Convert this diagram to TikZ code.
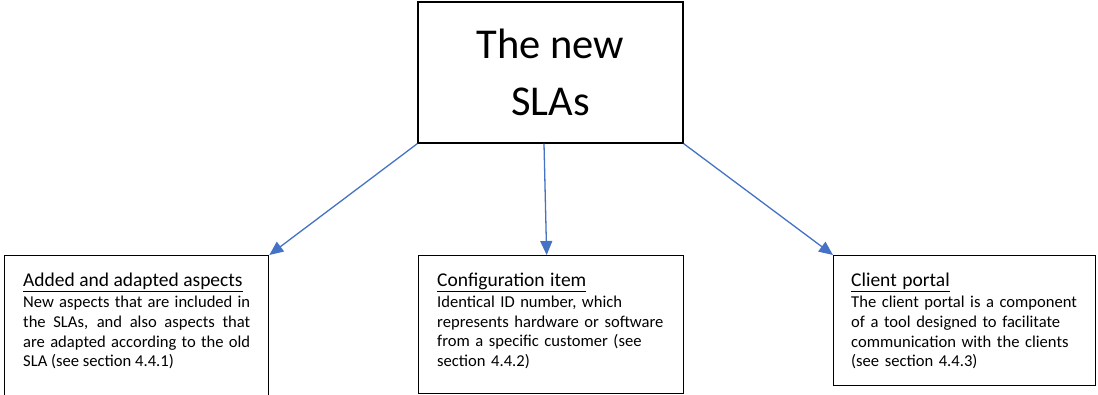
\documentclass[tikz,border=0pt]{standalone}
\usepackage{fontspec}
\setmainfont{Carlito}
\usetikzlibrary{arrows.meta}
\usetikzlibrary{positioning}

\definecolor{arrowblue}{HTML}{4472C4}
\newcommand{\boxtitle}[1]{{\fontsize{19.5}{21}\selectfont\underline{#1}}}

\tikzset{
	box/.style={draw, line width=1.3pt, inner sep=0pt},
	desc/.style={anchor=north west, inner sep=0pt, font=\fontsize{16.6}{19.6}\selectfont},
	link/.style={draw=arrowblue, line width=1.3pt, -{Triangle[length=14pt,width=12pt]}}
}

\begin{document}
\begin{tikzpicture}[x=1pt,y=1pt]
		\useasboundingbox (0,0) rectangle (1098,394);
		\clip (0,0) rectangle (1098,394);
		\node[box, minimum width=265pt, minimum height=141pt, align=center, font=\fontsize{42.5}{57}\selectfont] (slas) at (550.5,321.5) {The new\\SLAs};
		\node[box, anchor=north west, minimum width=264pt, minimum height=150pt] (aspects) at (4,139) {};
		\node[box, anchor=north west, minimum width=265pt, minimum height=138pt] (item) at (418,139) {};
		\node[box, anchor=north west, minimum width=262pt, minimum height=130pt] (portal) at (833,139) {};
		\node[desc, text width=227pt, align=justify] (aspectstext) at ([xshift=19pt,yshift=-18pt]aspects.north west) {\boxtitle{Added and adapted aspects}\\[1.5pt]New aspects that are included in\linebreak the SLAs, and also aspects that\linebreak are adapted according to the old\linebreak SLA (see section 4.4.1)};
		\node[desc, text width=240pt, align=left] (itemtext) at ([xshift=19pt,yshift=-18pt]item.north west) {\boxtitle{Configuration item}\\[1.5pt]Identical ID number, which\\represents hardware or software\\from a specific customer (see\\section 4.4.2)};
		\node[desc, text width=240pt, align=left] (portaltext) at ([xshift=18pt,yshift=-18pt]portal.north west) {\boxtitle{Client portal}\\[1.5pt]The client portal is a component\\of a tool designed to facilitate\\communication with the clients\\(see section 4.4.3)};
		\draw[link] (slas.south west) -- (aspects.north east);
		\draw[link] ([xshift=-6.5pt]slas.south) -- ([xshift=-4.5pt]item.north);
		\draw[link] (slas.south east) -- (portal.north west);
\end{tikzpicture}
\end{document}
